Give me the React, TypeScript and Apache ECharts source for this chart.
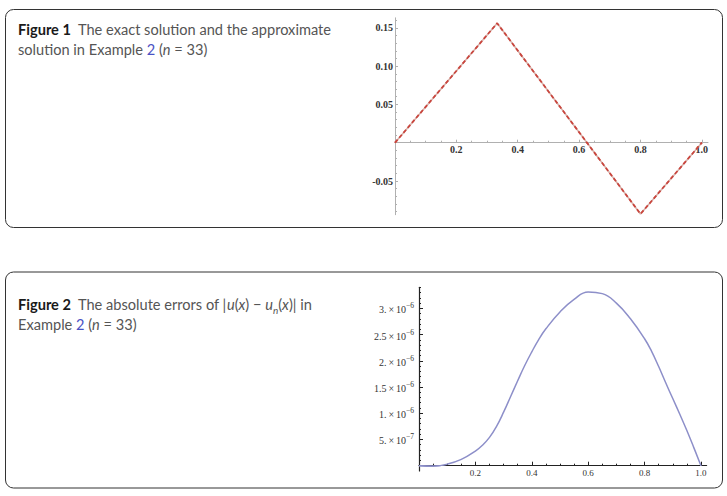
import React, { useEffect, useRef } from 'react';
import * as echarts from 'echarts';

// ---------- Figure 1 data ----------
const fig1X = [0, 0.333, 0.8, 1.0];
const fig1Exact = [0, 0.156, -0.093, 0];
const fig1Approx = [0, 0.156, -0.093, 0];
const fig1XTicks = [0.2, 0.4, 0.6, 0.8, 1.0];
const fig1XLabels = ['0.2', '0.4', '0.6', '0.8', '1.0'];
const fig1YTicksPos = [0.05, 0.1, 0.15];
const fig1YLabelsPos = ['0.05', '0.10', '0.15'];
const fig1YTicksNeg = [-0.05];
const fig1YLabelsNeg = ['-0.05'];

// ---------- Figure 2 data ----------
const fig2X = [0, 0.05, 0.1, 0.15, 0.2, 0.225, 0.25, 0.275, 0.3, 0.325, 0.35, 0.375, 0.4, 0.425, 0.45, 0.5, 0.55, 0.6, 0.65, 0.7, 0.75, 0.8, 0.825, 0.85, 0.875, 0.9, 0.925, 0.95, 0.975, 1.0];
const fig2Err = [0, -0.01e-6, 0.03e-6, 0.12e-6, 0.28e-6, 0.39e-6, 0.54e-6, 0.75e-6, 1.02e-6, 1.32e-6, 1.62e-6, 1.91e-6, 2.17e-6, 2.41e-6, 2.61e-6, 2.93e-6, 3.17e-6, 3.31e-6, 3.28e-6, 3.1e-6, 2.8e-6, 2.42e-6, 2.18e-6, 1.89e-6, 1.58e-6, 1.28e-6, 0.98e-6, 0.67e-6, 0.34e-6, 0];
const fig2XTicks = [0.2, 0.4, 0.6, 0.8, 1.0];
const fig2XLabels = ['0.2', '0.4', '0.6', '0.8', '1.0'];
const fig2YTicks = [5e-7, 1e-6, 1.5e-6, 2e-6, 2.5e-6, 3e-6];
const fig2YMant = ['5.', '1.', '1.5', '2.', '2.5', '3.'];
const fig2YExp = ['−7', '−6', '−6', '−6', '−6', '−6'];

function steps(min: number, max: number, step: number, skipEvery: number) {
  const out: number[] = [];
  for (let i = Math.ceil(min / step - 1e-9); i * step <= max + 1e-12; i++) {
    if (i % skipEvery !== 0) out.push(+(i * step).toPrecision(10));
  }
  return out;
}

function nearestIdx(arr: number[], v: number) {
  let best = 0;
  for (let i = 1; i < arr.length; i++) if (Math.abs(arr[i] - v) < Math.abs(arr[best] - v)) best = i;
  return best;
}

export default function App() {
  const ref = useRef<HTMLDivElement>(null);
  useEffect(() => {
    if (!ref.current) return;
    const chart = echarts.init(ref.current, undefined, { renderer: 'svg' });

    // value ranges (upper / lower halves of each plot share the zero line)
    const f1xMax = 1.02, f1yMin = -0.094, f1yMax = 0.163;
    const f2xMax = 1.02, f2yMin = -0.1e-6, f2yMax = 3.4e-6;
    // pixel scales
    const f1Left = 395, f1Zero = 142.7, f1PxPerY = 766, f1Width = 313;
    const f2Left = 419, f2Zero = 465.7, f2PxPerY = 52.46e6, f2Width = 287.6;

    const ax1Color = '#b0b0b0';
    const ax2Color = '#222';
    const serif = 'Liberation Serif, Times New Roman, serif';
    const capFont = 'Lato';
    const capSize = 14.6;

    const hiddenX = (gridIndex: number, max: number) => ({
      type: 'value', gridIndex, min: 0, max, show: false,
    });

    const option: any = {
      animation: false,
      backgroundColor: '#fff',
      grid: [
        { left: f1Left, top: f1Zero - f1yMax * f1PxPerY, width: f1Width, height: f1yMax * f1PxPerY },
        { left: f1Left, top: f1Zero, width: f1Width, height: -f1yMin * f1PxPerY },
        { left: f2Left, top: f2Zero - f2yMax * f2PxPerY, width: f2Width, height: f2yMax * f2PxPerY },
        { left: f2Left, top: f2Zero, width: f2Width, height: -f2yMin * f2PxPerY },
      ],
      xAxis: [
        {
          type: 'value', gridIndex: 0, min: 0, max: f1xMax, position: 'bottom',
          axisLine: { onZero: false, lineStyle: { color: ax1Color, width: 1 } },
          axisTick: { inside: true, length: 3, customValues: fig1XTicks, lineStyle: { color: ax1Color } },
          axisLabel: {
            customValues: fig1XTicks, margin: 2, fontFamily: serif, fontWeight: 'bold', fontSize: 10, color: '#333',
            formatter: (v: number) => fig1XLabels[nearestIdx(fig1XTicks, v)],
          },
          splitLine: { show: false },
        },
        {
          type: 'value', gridIndex: 0, min: 0, max: f1xMax, position: 'bottom',
          axisLine: { show: false, onZero: false },
          axisTick: { inside: true, length: 2, customValues: steps(0, 1.0, 0.05, 4), lineStyle: { color: ax1Color } },
          axisLabel: { show: false },
          splitLine: { show: false },
        },
        hiddenX(1, f1xMax),
        {
          type: 'value', gridIndex: 2, min: 0, max: f2xMax, position: 'bottom',
          axisLine: { onZero: false, lineStyle: { color: ax2Color, width: 1.2 } },
          axisTick: { inside: true, length: 4, customValues: fig2XTicks, lineStyle: { color: ax2Color } },
          axisLabel: {
            customValues: fig2XTicks, margin: 3, fontFamily: serif, fontSize: 9, color: '#333',
            formatter: (v: number) => fig2XLabels[nearestIdx(fig2XTicks, v)],
          },
          splitLine: { show: false },
        },
        {
          type: 'value', gridIndex: 2, min: 0, max: f2xMax, position: 'bottom',
          axisLine: { show: false, onZero: false },
          axisTick: { inside: true, length: 2, customValues: steps(0, 1.0, 0.05, 4), lineStyle: { color: ax2Color } },
          axisLabel: { show: false },
          splitLine: { show: false },
        },
        hiddenX(3, f2xMax),
      ],
      yAxis: [
        // fig 1 upper
        {
          type: 'value', gridIndex: 0, min: 0, max: f1yMax, position: 'left',
          axisLine: { show: true, onZero: false, lineStyle: { color: ax1Color, width: 1 } },
          axisTick: { show: true, inside: true, length: 3, customValues: fig1YTicksPos, lineStyle: { color: ax1Color } },
          axisLabel: {
            customValues: fig1YTicksPos, margin: 2, fontFamily: serif, fontWeight: 'bold', fontSize: 10, color: '#333',
            formatter: (v: number) => fig1YLabelsPos[nearestIdx(fig1YTicksPos, v)],
          },
          splitLine: { show: false },
        },
        {
          type: 'value', gridIndex: 0, min: 0, max: f1yMax, position: 'left',
          axisLine: { show: false, onZero: false },
          axisTick: { show: true, inside: true, length: 2, customValues: steps(0.01, 0.16, 0.01, 5), lineStyle: { color: ax1Color } },
          axisLabel: { show: false },
          splitLine: { show: false },
        },
        // fig 1 lower
        {
          type: 'value', gridIndex: 1, min: f1yMin, max: 0, position: 'left',
          axisLine: { show: true, onZero: false, lineStyle: { color: ax1Color, width: 1 } },
          axisTick: { show: true, inside: true, length: 3, customValues: fig1YTicksNeg, lineStyle: { color: ax1Color } },
          axisLabel: {
            customValues: fig1YTicksNeg, margin: 2, fontFamily: serif, fontWeight: 'bold', fontSize: 10, color: '#333',
            formatter: (v: number) => fig1YLabelsNeg[nearestIdx(fig1YTicksNeg, v)],
          },
          splitLine: { show: false },
        },
        {
          type: 'value', gridIndex: 1, min: f1yMin, max: 0, position: 'left',
          axisLine: { show: false, onZero: false },
          axisTick: { show: true, inside: true, length: 2, customValues: steps(-0.09, -0.01, 0.01, 5), lineStyle: { color: ax1Color } },
          axisLabel: { show: false },
          splitLine: { show: false },
        },
        // fig 2 upper
        {
          type: 'value', gridIndex: 2, min: 0, max: f2yMax, position: 'left',
          axisLine: { show: true, onZero: false, lineStyle: { color: ax2Color, width: 1.2 } },
          axisTick: { show: true, inside: true, length: 4, customValues: fig2YTicks, lineStyle: { color: ax2Color } },
          axisLabel: {
            customValues: fig2YTicks, margin: 5, color: '#333',
            formatter: (v: number) => {
              const i = nearestIdx(fig2YTicks, v);
              return `{m|${fig2YMant[i]}\u2009×\u200910}{e|${fig2YExp[i]}}`;
            },
            rich: {
              m: { fontFamily: serif, fontSize: 10, color: '#333', lineHeight: 13, verticalAlign: 'bottom' },
              e: { fontFamily: serif, fontSize: 7.5, color: '#333', lineHeight: 13, verticalAlign: 'top' },
            },
          },
          splitLine: { show: false },
        },
        {
          type: 'value', gridIndex: 2, min: 0, max: f2yMax, position: 'left',
          axisLine: { show: false, onZero: false },
          axisTick: { show: true, inside: true, length: 2, customValues: steps(0.1e-6, 3.4e-6, 0.1e-6, 5), lineStyle: { color: ax2Color } },
          axisLabel: { show: false },
          splitLine: { show: false },
        },
        // fig 2 lower (axis extension below zero)
        {
          type: 'value', gridIndex: 3, min: f2yMin, max: 0, position: 'left',
          axisLine: { show: true, onZero: false, lineStyle: { color: ax2Color, width: 1.2 } },
          axisTick: { show: false },
          axisLabel: { show: false },
          splitLine: { show: false },
        },
      ],
      series: [
        // fig 1, upper half
        {
          type: 'line', xAxisIndex: 0, yAxisIndex: 0, symbol: 'none', clip: true,
          data: fig1X.map((x, i) => [x, fig1Exact[i]]),
          lineStyle: { color: '#d7b2ab', width: 1.6 }, z: 2,
        },
        {
          type: 'line', xAxisIndex: 0, yAxisIndex: 0, symbol: 'none', clip: true,
          data: fig1X.map((x, i) => [x, fig1Approx[i]]),
          lineStyle: { color: '#c9453d', width: 1.8, type: [4, 2.5] }, z: 3,
        },
        // fig 1, lower half
        {
          type: 'line', xAxisIndex: 2, yAxisIndex: 2, symbol: 'none', clip: true,
          data: fig1X.map((x, i) => [x, fig1Exact[i]]),
          lineStyle: { color: '#d7b2ab', width: 1.6 }, z: 2,
        },
        {
          type: 'line', xAxisIndex: 2, yAxisIndex: 2, symbol: 'none', clip: true,
          data: fig1X.map((x, i) => [x, fig1Approx[i]]),
          lineStyle: { color: '#c9453d', width: 1.8, type: [4, 2.5] }, z: 3,
        },
        // fig 2
        {
          type: 'line', xAxisIndex: 3, yAxisIndex: 4, symbol: 'none', smooth: 0.45, clip: true,
          data: fig2X.map((x, i) => [x, fig2Err[i]]),
          lineStyle: { color: '#8d8fc9', width: 1.5 },
        },
        {
          type: 'line', xAxisIndex: 5, yAxisIndex: 6, symbol: 'none', smooth: 0.45, clip: true,
          data: fig2X.map((x, i) => [x, fig2Err[i]]),
          lineStyle: { color: '#8d8fc9', width: 1.5 },
        },
      ],
      graphic: [
        {
          type: 'rect', shape: { x: 5.5, y: 9.5, width: 717, height: 218, r: 8 },
          style: { fill: 'none', stroke: '#333', lineWidth: 1 }, silent: true,
        },
        {
          type: 'rect', shape: { x: 5.5, y: 272, width: 717, height: 216, r: 8 },
          style: { fill: 'none', stroke: '#333', lineWidth: 1 }, silent: true,
        },
        {
          type: 'text', x: 18, y: 19,
          style: {
            text: '{b|Figure 1}{r|  The exact solution and the approximate}\n{r|solution in Example }{l|2}{r| (}{i|n}{r| = 33)}',
            rich: {
              b: { fontFamily: capFont, fontWeight: 'bold', fontSize: capSize, fill: '#1a1a1a', lineHeight: 20 },
              r: { fontFamily: capFont, fontSize: capSize, fill: '#555', lineHeight: 20 },
              l: { fontFamily: capFont, fontSize: capSize, fill: '#4a52c4', lineHeight: 20 },
              i: { fontFamily: capFont, fontStyle: 'italic', fontSize: capSize, fill: '#555', lineHeight: 20 },
            },
          },
        },
        {
          type: 'text', x: 18, y: 294.5,
          style: {
            text: '{b|Figure 2}{r|  The absolute errors of |}{i|u}{r|(}{i|x}{r|) − }{i|u}{s|n}{r|(}{i|x}{r|)| in}\n{r|Example }{l|2}{r| (}{i|n}{r| = 33)}',
            rich: {
              b: { fontFamily: capFont, fontWeight: 'bold', fontSize: capSize, fill: '#1a1a1a', lineHeight: 20 },
              r: { fontFamily: capFont, fontSize: capSize, fill: '#555', lineHeight: 20 },
              l: { fontFamily: capFont, fontSize: capSize, fill: '#4a52c4', lineHeight: 20 },
              i: { fontFamily: capFont, fontStyle: 'italic', fontSize: capSize, fill: '#555', lineHeight: 20 },
              s: { fontFamily: capFont, fontStyle: 'italic', fontSize: 10, fill: '#555', lineHeight: 20, verticalAlign: 'bottom' },
            },
          },
        },
      ],
    };
    chart.setOption(option);
    return () => chart.dispose();
  }, []);
  return <div ref={ref} style={{ position: 'fixed', left: 0, top: 0, width: 727, height: 496 }} />;
}
